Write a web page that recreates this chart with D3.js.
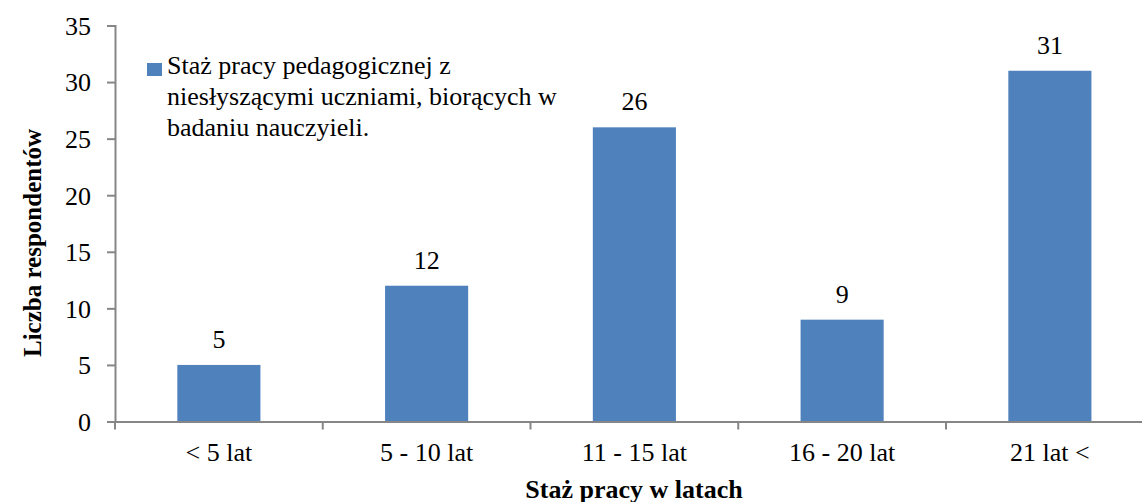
<!DOCTYPE html>
<html><head><meta charset="utf-8">
<script src="https://cdn.jsdelivr.net/npm/d3@7"></script>
<style>body{margin:0;background:#fff}svg{display:block}</style>
</head><body><svg id="c" width="1142" height="502"></svg>
<script>
const categories = ["< 5 lat", "5 - 10 lat", "11 - 15 lat", "16 - 20 lat", "21 lat <"];
const values = [5, 12, 26, 9, 31];
const yTicks = [0, 5, 10, 15, 20, 25, 30, 35];
const seriesName = ["Staż pracy pedagogicznej z", "niesłyszącymi uczniami, biorących w", "badaniu nauczyieli."];
const xTitle = "Staż pracy w latach";
const yTitle = "Liczba respondentów";

const FONT = "Liberation Serif";
const svg = d3.select("#c").attr("font-family", FONT);
const x0 = 115, step = 207.75;
const x = d3.scaleBand().domain(categories).range([x0, x0 + step * categories.length]).paddingInner(0.6).paddingOuter(0.3);
const y = d3.scaleLinear().domain([0, 35]).range([421.5, 25.5]);
const axisColor = "#868686";
const fs = 26;

// bars
svg.selectAll("rect.bar").data(values).join("rect").attr("class","bar")
  .attr("x",(d,i)=>x(categories[i])).attr("width",x.bandwidth())
  .attr("y",d=>y(d)).attr("height",d=>y(0)-y(d))
  .attr("fill","#4F81BD");

// y axis
const ya = svg.append("g").attr("transform",`translate(${x0},0)`)
  .call(d3.axisLeft(y).tickValues(yTicks).tickSize(8).tickPadding(16));
ya.attr("font-family", FONT).attr("font-size", fs);
ya.select(".domain").attr("stroke",axisColor).attr("stroke-width",2);
ya.selectAll(".tick line").attr("stroke",axisColor).attr("stroke-width",2);
ya.selectAll(".tick text").attr("fill","#000").attr("dy","0.34em");

// x axis
const xa = svg.append("g").attr("transform",`translate(0,${y(0)})`)
  .call(d3.axisBottom(x).tickSize(0).tickPadding(0));
xa.attr("font-family", FONT).attr("font-size", fs);
xa.select(".domain").attr("stroke",axisColor).attr("stroke-width",2);
xa.selectAll(".tick text").attr("fill","#000").attr("y",39.5).attr("dy",0);
const bounds = d3.range(categories.length + 1).map(i => x0 + i * step);
xa.selectAll("line.sep").data(bounds).join("line").attr("class","sep")
  .attr("x1",d=>d).attr("x2",d=>d).attr("y1",0).attr("y2",8)
  .attr("stroke",axisColor).attr("stroke-width",2);

// data labels
svg.selectAll("text.lbl").data(values).join("text").attr("class","lbl")
  .attr("x",(d,i)=>x(categories[i])+x.bandwidth()/2).attr("y",d=>y(d)-17)
  .attr("text-anchor","middle").attr("font-size",fs).attr("fill","#000").text(d=>d);

// legend
svg.append("rect").attr("x",147).attr("y",63).attr("width",15).attr("height",13).attr("fill","#4F81BD");
svg.append("text").attr("font-size",fs).attr("fill","#000").selectAll("tspan").data(seriesName).join("tspan")
  .attr("x",167).attr("y",(d,i)=>74+i*31).text(d=>d);

// axis titles
svg.append("text").attr("x",634).attr("y",498).attr("text-anchor","middle")
  .attr("font-size",26).attr("font-weight","bold").attr("fill","#000").text(xTitle);
svg.append("text").attr("transform","translate(41,243) rotate(-90)").attr("text-anchor","middle")
  .attr("font-size",25).attr("font-weight","bold").attr("fill","#000").text(yTitle);
</script></body></html>
